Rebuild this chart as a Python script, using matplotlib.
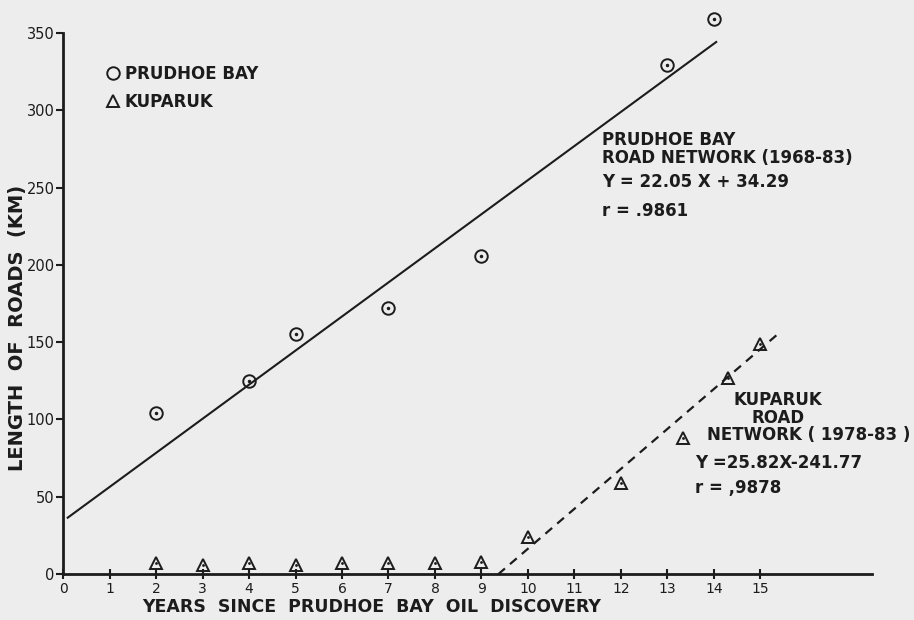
import matplotlib.pyplot as plt
import numpy as np

pb_years = [2, 4, 5, 7, 9, 13, 14]
pb_km = [104, 125, 155, 172, 206, 329, 359]
kup_years = [2, 3, 4, 5, 6, 7, 8, 9, 10, 12, 13.33, 14.3, 15]
kup_km = [7, 6, 7, 6, 7, 7, 7, 8, 24, 59, 88, 127, 149]

pb_fit = (22.05, 34.29)      # slope, intercept
kup_fit = (25.82, -241.77)
pb_range = (0.1, 14.05)
kup_range = (9.36, 15.35)

x_ticks = list(range(0, 16))
y_ticks = list(range(0, 351, 50))

ink = '#1c1c1c'
plt.rcParams['font.family'] = ['DejaVu Sans']
plt.rcParams['font.weight'] = 'bold'

fig = plt.figure(figsize=(9.14, 6.2), dpi=100, facecolor='#ededed')
ax = fig.add_axes([0.069, 0.074, 0.885, 0.873])
ax.set_facecolor('none')

# regression lines
xs = np.array(pb_range)
ax.plot(xs, pb_fit[0] * xs + pb_fit[1], color=ink, lw=1.5)
xs = np.array(kup_range)
ax.plot(xs, kup_fit[0] * xs + kup_fit[1], color=ink, lw=1.6, ls=(0, (4, 3)))

# points
ax.plot(pb_years, pb_km, 'o', ms=9, mfc='none', mec=ink, mew=1.4, label='PRUDHOE BAY', clip_on=False)
ax.plot(pb_years, pb_km, '.', ms=3, color=ink, clip_on=False)
ax.plot(kup_years, kup_km, '^', ms=8, mfc='none', mec=ink, mew=1.4, label='KUPARUK', clip_on=False)
ax.plot(kup_years, kup_km, '.', ms=2, color=ink, clip_on=False)

ax.set_xlim(0, 17.4)
ax.set_ylim(0, 350)
ax.set_xticks(x_ticks)
ax.set_xticklabels([str(t) for t in x_ticks], fontsize=10, color=ink, fontweight='normal')
ax.set_yticks(y_ticks)
ax.set_yticklabels([str(t) for t in y_ticks], fontsize=10.5, color=ink, fontweight='normal')
ax.tick_params(axis='x', direction='inout', length=7, width=1.5, colors=ink, pad=2)
ax.tick_params(axis='y', direction='out', length=5, width=1.5, colors=ink, pad=1)
for s in ['top', 'right']:
  ax.spines[s].set_visible(False)
for s in ['left', 'bottom']:
  ax.spines[s].set_color(ink)
  ax.spines[s].set_linewidth(2)

ax.set_xlabel('YEARS  SINCE  PRUDHOE  BAY  OIL  DISCOVERY', fontsize=12.5, color=ink, fontweight='bold')
ax.xaxis.set_label_coords(0.381, -0.045)
ax.set_ylabel('LENGTH  OF  ROADS  (KM)', fontsize=14, color=ink, fontweight='bold')
ax.yaxis.set_label_coords(-0.045, 0.455)

leg = ax.legend(loc='upper left', bbox_to_anchor=(0.031, 0.968), frameon=False,
                handletextpad=0.1, handlelength=1.2, labelspacing=0.6,
                prop={'weight': 'bold', 'size': 12})
for t in leg.get_texts():
  t.set_color(ink)

# annotations
ax.text(11.6, 281, 'PRUDHOE BAY', fontsize=12, color=ink, va='center', ha='left')
ax.text(11.6, 269, 'ROAD NETWORK (1968-83)', fontsize=12, color=ink, va='center', ha='left')
ax.text(11.6, 253.5, 'Y = 22.05 X + 34.29', fontsize=12, color=ink, va='center', ha='left')
ax.text(11.6, 235, 'r = .9861', fontsize=12, color=ink, va='center', ha='left')

ax.text(15.37, 112.5, 'KUPARUK', fontsize=12, color=ink, va='center', ha='center')
ax.text(15.37, 101, 'ROAD', fontsize=12, color=ink, va='center', ha='center')
ax.text(13.85, 90, 'NETWORK ( 1978-83 )', fontsize=12, color=ink, va='center', ha='left')
ax.text(13.6, 72, 'Y =25.82X-241.77', fontsize=12, color=ink, va='center', ha='left')
ax.text(13.6, 56, 'r = ,9878', fontsize=12, color=ink, va='center', ha='left')

fig.savefig('out.png', dpi=100, facecolor=fig.get_facecolor())
